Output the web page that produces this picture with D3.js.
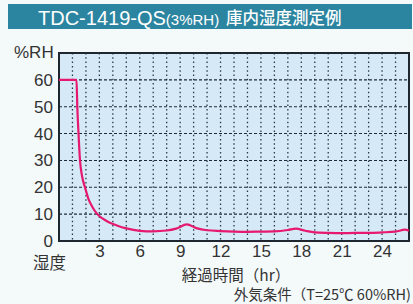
<!DOCTYPE html>
<html><head><meta charset="utf-8">
<script src="https://cdn.jsdelivr.net/npm/d3@7"></script>
<style>
html,body{margin:0;padding:0;background:#f4f9fa;}
svg{display:block;}
text{font-family:"Liberation Sans",Arial,"Noto Sans CJK JP",sans-serif;}
.jp{font-family:"Noto Sans CJK JP","Liberation Sans",sans-serif;}
</style></head>
<body>
<svg id="c" width="413" height="304"></svg>
<script>
const hours = [0, 1.3, 1.36, 1.45, 1.56, 1.72, 1.93, 2.2, 2.5, 2.8, 3.2, 3.7, 4.3, 5, 6, 7, 8, 8.7, 9.5, 10.2, 11, 12, 13, 14, 15, 16, 17, 17.6, 18.3, 19, 20, 21, 22, 23, 24, 25, 25.7, 26];
const humidity = [60, 60, 50, 40, 30, 24, 20, 15.5, 12.5, 10.3, 8.5, 7, 5.8, 4.7, 3.8, 3.6, 3.9, 4.6, 6.2, 4.8, 4.0, 3.7, 3.5, 3.4, 3.5, 3.6, 4.1, 4.6, 3.8, 3.2, 3.0, 2.9, 3.0, 3.0, 3.2, 3.5, 4.2, 3.8];
const xTicks = [3, 6, 9, 12, 15, 18, 21, 24];
const yTicks = [0, 10, 20, 30, 40, 50, 60];
const titleMain = "TDC-1419-QS";
const titleSub = "(3%RH)";
const titleJp = "庫内湿度測定例";

const svg = d3.select("#c");
const L = 59, R = 409, T = 53, B = 241;
const x = d3.scaleLinear().domain([0, 26]).range([L, R]);
const y = d3.scaleLinear().domain([0, 70]).range([B, T]);

// title bar
svg.append("rect").attr("x", 8).attr("y", 4).attr("width", 404).attr("height", 25).attr("fill", "#2c85a0");
const tt = svg.append("text").attr("x", 38).attr("y", 25).attr("fill", "#fff");
tt.append("tspan").attr("font-size", 20).text(titleMain);
tt.append("tspan").attr("font-size", 15).text(titleSub);
svg.append("text").attr("class", "jp").attr("x", 226).attr("y", 24).attr("fill", "#fff")
  .attr("font-size", 16.5).attr("font-weight", 500).text(titleJp);

// plot background
svg.append("rect").attr("x", L).attr("y", T).attr("width", R - L).attr("height", B - T).attr("fill", "#d5eaf6");

// vertical grid (every hour), dotted
const g = svg.append("g");
g.selectAll("line.v").data(d3.range(1, 26)).join("line")
  .attr("x1", d => x(d)).attr("x2", d => x(d)).attr("y1", T).attr("y2", B)
  .attr("stroke", "#2b3a4a").attr("stroke-width", 1.3).attr("stroke-dasharray", "1.5,2.8");
// horizontal grid dashed
g.selectAll("line.h").data(yTicks.filter(d => d > 0)).join("line")
  .attr("x1", L).attr("x2", R).attr("y1", d => y(d)).attr("y2", d => y(d))
  .attr("stroke", "#1f2a3a").attr("stroke-width", 1.1).attr("stroke-dasharray", "3,2");

// border
svg.append("rect").attr("x", L).attr("y", T).attr("width", R - L).attr("height", B - T)
  .attr("fill", "none").attr("stroke", "#1e2630").attr("stroke-width", 2);

// axes
const yAxis = d3.axisLeft(y).tickValues(yTicks).tickSize(0).tickPadding(6);
const ya = svg.append("g").attr("transform", `translate(${L},0)`).call(yAxis);
ya.select(".domain").remove();
ya.selectAll("text").attr("font-size", 17).attr("fill", "#333").attr("font-family", "Liberation Sans, Arial, sans-serif");

const xAxis = d3.axisBottom(x).tickValues(xTicks).tickSize(0).tickPadding(4);
const xa = svg.append("g").attr("transform", `translate(0,${B})`).call(xAxis);
xa.select(".domain").remove();
xa.selectAll("text").attr("font-size", 17).attr("fill", "#333").attr("font-family", "Liberation Sans, Arial, sans-serif");

// line
const line = d3.line().x((d, i) => x(hours[i])).y(d => y(d)).curve(d3.curveMonotoneX);
svg.append("path").datum(humidity).attr("d", line).attr("fill", "none")
  .attr("stroke", "#e6196e").attr("stroke-width", 2.2);

// labels
svg.append("text").attr("x", 14).attr("y", 58).attr("font-size", 17).attr("fill", "#333").text("%RH");
svg.append("text").attr("class", "jp").attr("x", 33).attr("y", 269).attr("font-size", 16.5).attr("fill", "#333").text("湿度");
svg.append("text").attr("class", "jp").attr("x", 236).attr("y", 281).attr("text-anchor", "middle")
  .attr("font-size", 15.5).attr("fill", "#333").text("経過時間（hr）");
svg.append("text").attr("class", "jp").attr("x", 411).attr("y", 300).attr("text-anchor", "end")
  .attr("font-size", 14.5).attr("fill", "#333").text("外気条件（T=25℃ 60%RH)");
</script>
</body></html>
